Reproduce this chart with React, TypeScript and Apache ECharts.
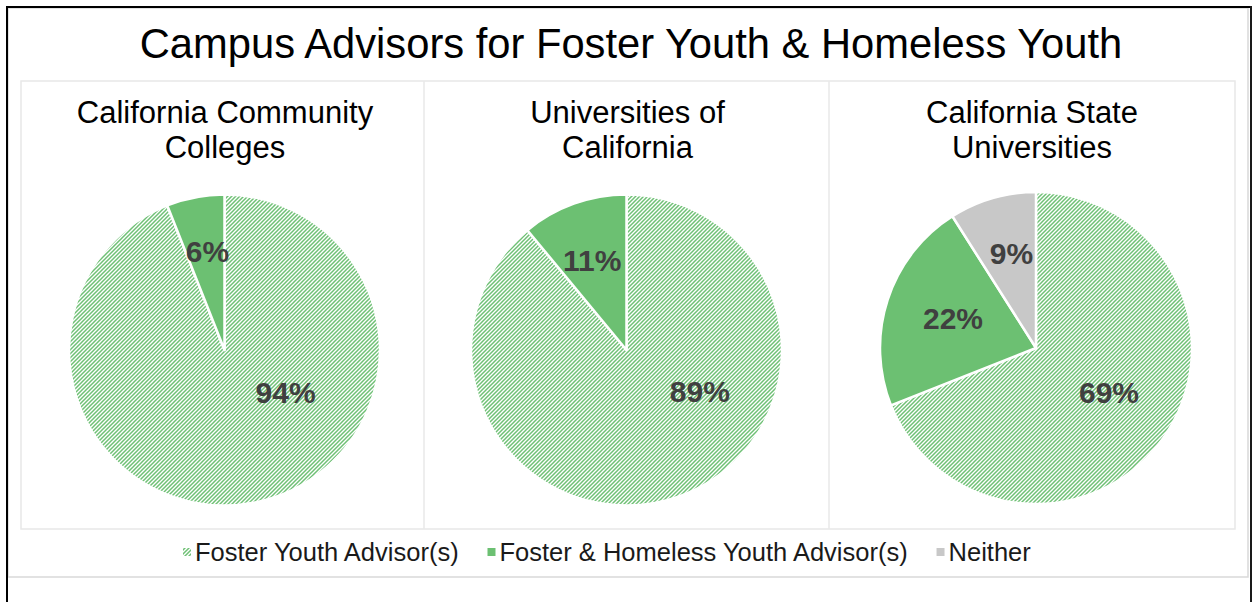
import React, { useEffect, useRef } from "react";
import * as echarts from "echarts";

const chartTitle = "Campus Advisors for Foster Youth & Homeless Youth";
const categories = ["Foster Youth Advisor(s)", "Foster & Homeless Youth Advisor(s)", "Neither"];
const panelTitles = ["California Community\nColleges", "Universities of\nCalifornia", "California State\nUniversities"];
const cccValues = [94, 6];
const ucValues = [89, 11];
const csuValues = [69, 22, 9];

const GREEN = "#6cc072";
const HATCH = "#6fc075";
const GREY = "#c8c8c8";
const TEXT = "#404040";
const FONT = "Liberation Sans, Arial, sans-serif";

function makeHatch(): HTMLCanvasElement {
  const c = document.createElement("canvas");
  c.width = 4;
  c.height = 4;
  const ctx = c.getContext("2d")!;
  ctx.fillStyle = "#ffffff";
  ctx.fillRect(0, 0, 4, 4);
  ctx.strokeStyle = HATCH;
  ctx.lineWidth = 1.5;
  ctx.beginPath();
  ctx.moveTo(0, 4); ctx.lineTo(4, 0);
  ctx.moveTo(-1, 1); ctx.lineTo(1, -1);
  ctx.moveTo(3, 5); ctx.lineTo(5, 3);
  ctx.stroke();
  return c;
}

export default function App() {
  const ref = useRef<HTMLDivElement>(null);
  useEffect(() => {
    if (!ref.current) return;
    const chart = echarts.init(ref.current, null, { renderer: "svg" });
    const hatch = { image: makeHatch(), repeat: "repeat" };
    const colors: any[] = [hatch, GREEN, GREY];

    const pies = [
      { values: cccValues, center: [224.5, 350], radius: 155.5, offsets: [[46, -37], [-2, -19]] },
      { values: ucValues, center: [626.5, 350], radius: 155.5, offsets: [[46, -34], [-7, -14]] },
      { values: csuValues, center: [1036, 348], radius: 156, offsets: [[6, -1], [-6, -4], [-2, -17]] },
    ];

    const series = pies.map((p) => ({
      type: "pie",
      center: p.center,
      radius: p.radius,
      startAngle: 90,
      clockwise: true,
      silent: true,
      itemStyle: { borderColor: "#ffffff", borderWidth: 2.5 },
      label: {
        show: true,
        position: "inside",
        formatter: "{c}%",
        color: TEXT,
        fontFamily: FONT,
        fontWeight: "bold",
        fontSize: 30,
      },
      labelLine: { show: false },
      data: p.values.map((v, i) => ({
        name: categories[i],
        value: v,
        itemStyle: { color: colors[i] },
        label: { offset: p.offsets[i] },
      })),
    }));

    const panelCenters = [220, 622.5, 1027];

    chart.setOption({
      animation: false,
      backgroundColor: "#ffffff",
      title: [
        {
          text: chartTitle,
          left: 626,
          top: 15,
          textAlign: "center",
          textStyle: { fontFamily: FONT, fontSize: 41.7, fontWeight: "normal", color: "#000000", lineHeight: 46 },
        },
        ...panelTitles.map((t, i) => ({
          text: t,
          left: panelCenters[i],
          top: 90,
          textAlign: "center",
          textStyle: { fontFamily: FONT, fontSize: 31, fontWeight: "normal", color: "#000000", lineHeight: 35 },
        })),
      ],
      legend: {
        data: categories,
        left: 181,
        top: 539,
        padding: 0,
        icon: "rect",
        itemWidth: 10,
        itemHeight: 10,
        itemGap: 25,
        selectedMode: false,
        textStyle: { fontFamily: FONT, fontSize: 25.5, color: "#1a1a1a", padding: [0, 0, 0, -2] },
      },
      graphic: [
        { type: "rect", shape: { x: 8, y: 8, width: 1240, height: 569 }, style: { fill: "none", stroke: "#d9d9d9", lineWidth: 1.5 }, silent: true },
        { type: "rect", shape: { x: 21, y: 81, width: 1214, height: 448 }, style: { fill: "none", stroke: "#e8e8e8", lineWidth: 1.5 }, silent: true },
        { type: "line", shape: { x1: 424, y1: 81, x2: 424, y2: 529 }, style: { stroke: "#e8e8e8", lineWidth: 1.5 }, silent: true },
        { type: "line", shape: { x1: 829, y1: 81, x2: 829, y2: 529 }, style: { stroke: "#e8e8e8", lineWidth: 1.5 }, silent: true },
        { type: "line", shape: { x1: 7, y1: 6, x2: 7, y2: 602 }, style: { stroke: "#000000", lineWidth: 2 }, silent: true },
        { type: "line", shape: { x1: 6, y1: 7, x2: 1252, y2: 7 }, style: { stroke: "#000000", lineWidth: 2 }, silent: true },
        { type: "line", shape: { x1: 1251, y1: 6, x2: 1251, y2: 602 }, style: { stroke: "#1a1a1a", lineWidth: 2 }, silent: true },
      ],
      series,
    });
    return () => chart.dispose();
  }, []);
  return <div ref={ref} style={{ position: "absolute", left: 0, top: 0, width: 1252, height: 602 }} />;
}
